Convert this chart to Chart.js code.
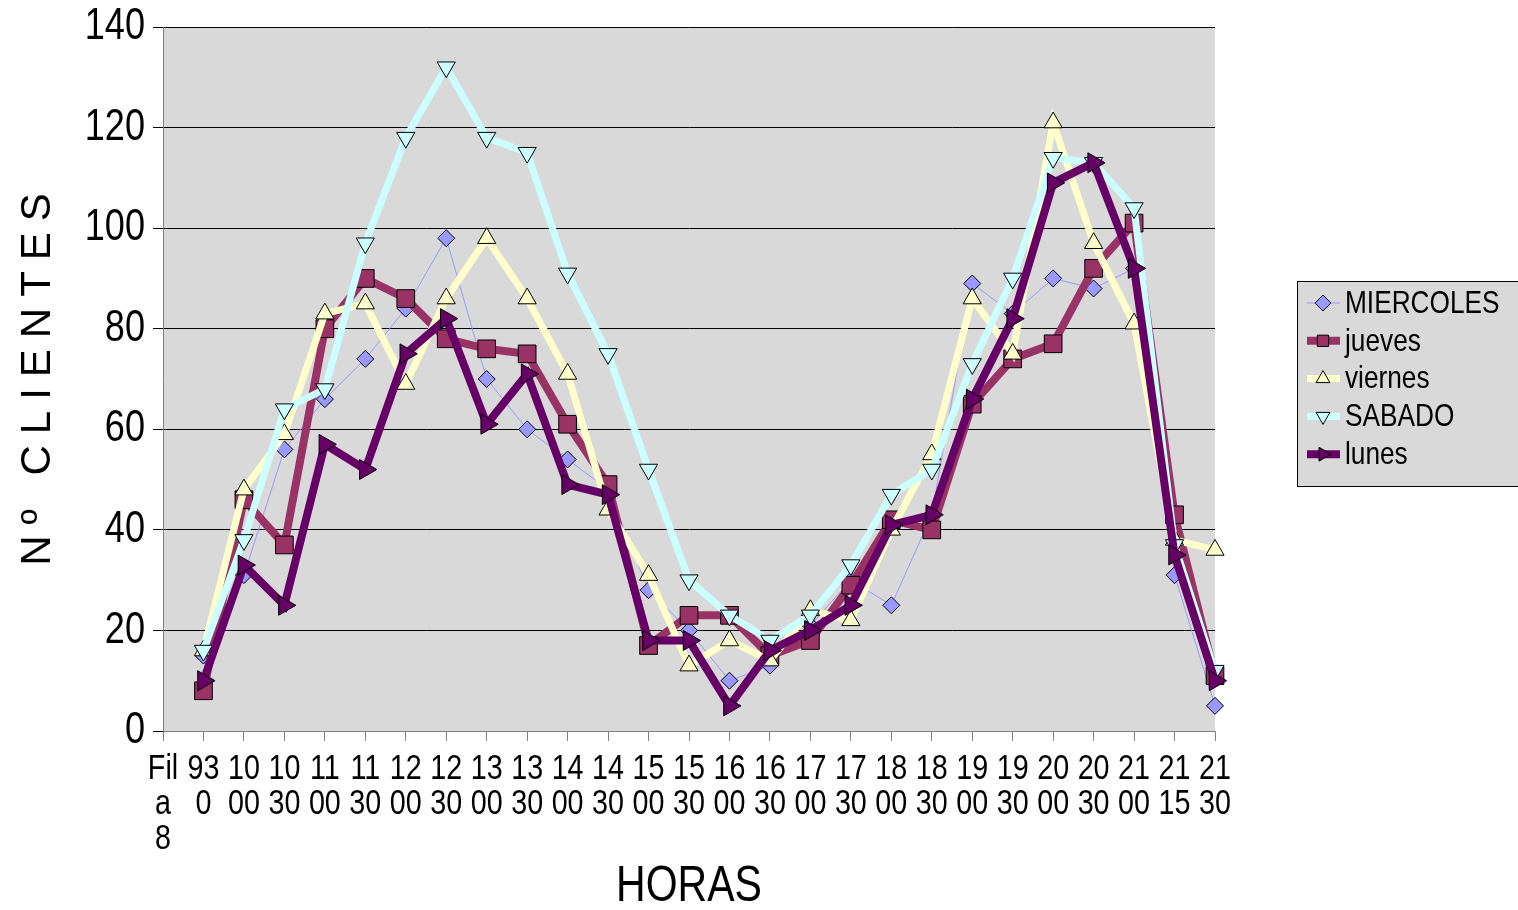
<!DOCTYPE html>
<html>
<head>
<meta charset="utf-8">
<script src="https://cdn.jsdelivr.net/npm/chart.js@4"></script>
<style>
  html, body { margin: 0; padding: 0; background: #fff; }
  #wrap { width: 1518px; height: 910px; }
</style>
</head>
<body>
<div id="wrap"><canvas id="clientesChart" width="1518" height="910"></canvas></div>
<script>
// categorias del eje X (el espacio separa las lineas de la etiqueta)
const horas = ['Fil a 8', '93 0', '10 00', '10 30', '11 00', '11 30', '12 00', '12 30', '13 00', '13 30',
    '14 00', '14 30', '15 00', '15 30', '16 00', '16 30', '17 00', '17 30', '18 00', '18 30',
    '19 00', '19 30', '20 00', '20 30', '21 00', '21 15', '21 30']

const miercoles = [null, 15, 31, 56, 66, 74, 84, 98, 70, 60, 54, 48, 28, 20, 10, 13, 21, 30, 25, 43, 89, 83, 90, 88, 92, 31, 5]
const jueves = [null, 8, 46, 37, 80, 90, 86, 78, 76, 75, 61, 49, 17, 23, 23, 15, 18, 29, 42, 40, 65, 74, 77, 92, 101, 43, 11]
const viernes = [null, 16, 48, 59, 83, 85, 69, 86, 98, 86, 71, 44, 31, 13, 18, 14, 24, 22, 40, 55, 86, 75, 121, 97, 81, 38, 36]
const sabado = [null, 16, 38, 64, 68, 97, 118, 132, 118, 115, 91, 75, 52, 30, 23, 18, 23, 33, 47, 52, 73, 90, 114, 113, 104, 37, 12]
const lunes = [null, 10, 33, 25, 57, 52, 75, 82, 61, 71, 49, 47, 18, 18, 5, 16, 20, 25, 41, 43, 66, 82, 109, 113, 92, 35, 10]

const yTicks = [0, 20, 40, 60, 80, 100, 120, 140]

const font = '"Liberation Sans", Arial, sans-serif'
const SQUEEZE = 0.82 // el original usa una letra estrecha

const serie = (label, data, color, width, style, radius, rotation, order) => ({
    label,
    data,
    borderColor: color,
    backgroundColor: color,
    borderWidth: width,
    pointStyle: style,
    pointRadius: radius,
    pointHoverRadius: radius,
    pointRotation: rotation,
    pointBackgroundColor: color,
    pointBorderColor: '#000',
    pointBorderWidth: 1,
    tension: 0,
    order,
})

// texto estrecho: se comprime en horizontal alrededor del punto de anclaje
const narrowText = {
    id: 'narrowText',
    beforeInit(chart) {
        const ctx = chart.ctx
        const fill = ctx.fillText.bind(ctx)
        ctx.plainFillText = fill
        ctx.fillText = function (text, x, y, maxWidth) {
            this.save()
            this.translate(x, y)
            this.scale(SQUEEZE, 1)
            fill(text, 0, 0)
            this.restore()
        }
    }
}

const plotBg = {
    id: 'plotBg',
    beforeDraw(chart) {
        const {ctx, chartArea: a} = chart
        ctx.save()
        ctx.fillStyle = '#d9d9d9'
        ctx.fillRect(a.left, a.top, a.right - a.left, a.bottom - a.top)
        ctx.restore()
    }
}

// titulo del eje Y con letras espaciadas
const yTitle = {
    id: 'yTitle',
    afterDraw(chart) {
        const {ctx, chartArea: a} = chart
        ctx.save()
        ctx.translate(38, (a.top + a.bottom) / 2)
        ctx.rotate(-Math.PI / 2)
        ctx.font = '42px ' + font
        ctx.letterSpacing = '11px'
        ctx.fillStyle = '#000'
        ctx.textAlign = 'center'
        ctx.textBaseline = 'middle'
        ctx.plainFillText('Nº CLIENTES', 5, 0)
        ctx.restore()
    }
}

// leyenda estilo Excel: linea + marcador
const boxLegend = {
    id: 'boxLegend',
    afterDraw(chart) {
        const {ctx} = chart
        const x0 = 1297, y0 = 281, w = 230, h = 205
        ctx.save()
        ctx.fillStyle = '#d9d9d9'
        ctx.fillRect(x0, y0, w, h)
        ctx.strokeStyle = '#000'
        ctx.lineWidth = 1
        ctx.strokeRect(x0 + 0.5, y0 + 0.5, w, h)
        chart.data.datasets.forEach((ds, i) => {
            const cy = 303 + i * 37.8
            ctx.strokeStyle = ds.borderColor
            ctx.lineWidth = ds.borderWidth
            ctx.beginPath()
            ctx.moveTo(1307, cy)
            ctx.lineTo(1340, cy)
            ctx.stroke()
            ctx.fillStyle = ds.pointBackgroundColor
            ctx.strokeStyle = '#000'
            ctx.lineWidth = 1
            Chart.helpers.drawPoint(ctx, {
                pointStyle: ds.pointStyle,
                rotation: ds.pointRotation,
                radius: Math.min(ds.pointRadius, 8),
                borderWidth: 1
            }, 1323, cy)
            ctx.fillStyle = '#000'
            ctx.font = '32px ' + font
            ctx.textAlign = 'left'
            ctx.textBaseline = 'middle'
            ctx.fillText(ds.label, 1345, cy + 1)
        })
        ctx.restore()
    }
}

const ctx = document.getElementById('clientesChart').getContext('2d')
new Chart(ctx, {
    type: 'line',
    data: {
        labels: horas.map(h => h.split(' ')),
        datasets: [
            serie('MIERCOLES', miercoles, '#9999ff', 1, 'rectRot', 8.5, 0, 5),
            serie('jueves', jueves, '#993366', 8, 'rect', 12.5, 0, 4),
            serie('viernes', viernes, '#ffffcc', 7, 'triangle', 10.5, 0, 3),
            serie('SABADO', sabado, '#ccffff', 7, 'triangle', 10.5, 180, 2),
            serie('lunes', lunes, '#660066', 8, 'triangle', 11.5, 90, 1),
        ]
    },
    options: {
        responsive: false,
        animation: false,
        devicePixelRatio: 1,
        layout: {padding: {left: 0, top: 27, right: 303, bottom: 0}},
        plugins: {
            legend: {display: false},
            tooltip: {enabled: false},
        },
        scales: {
            x: {
                type: 'category',
                offset: false,
                afterFit: (scale) => {
                    scale.height = 179
                    scale.paddingLeft = 0
                    scale.paddingRight = 0
                },
                grid: {drawOnChartArea: false, drawTicks: true, tickLength: 10, color: '#808080'},
                border: {color: '#808080', width: 1},
                ticks: {
                    autoSkip: false,
                    maxRotation: 0,
                    minRotation: 0,
                    padding: 11,
                    color: '#000',
                    font: {family: font, size: 35, lineHeight: 1.0},
                },
                title: {
                    display: true,
                    text: 'HORAS',
                    color: '#000',
                    font: {family: font, size: 50, lineHeight: 0.9},
                    padding: {top: 0, bottom: 0},
                }
            },
            y: {
                min: 0,
                max: 140,
                afterFit: (scale) => {
                    scale.width = 163
                    scale.paddingTop = 0
                    scale.paddingBottom = 0
                },
                afterBuildTicks: (scale) => { scale.ticks = yTicks.map(v => ({value: v})) },
                grid: {color: '#000', lineWidth: 1, drawTicks: true, tickLength: 10},
                border: {color: '#808080', width: 1},
                ticks: {
                    padding: 8,
                    color: '#000',
                    font: {family: font, size: 44, lineHeight: 1.0},
                },
            }
        }
    },
    plugins: [narrowText, plotBg, yTitle, boxLegend]
})
</script>
</body>
</html>
